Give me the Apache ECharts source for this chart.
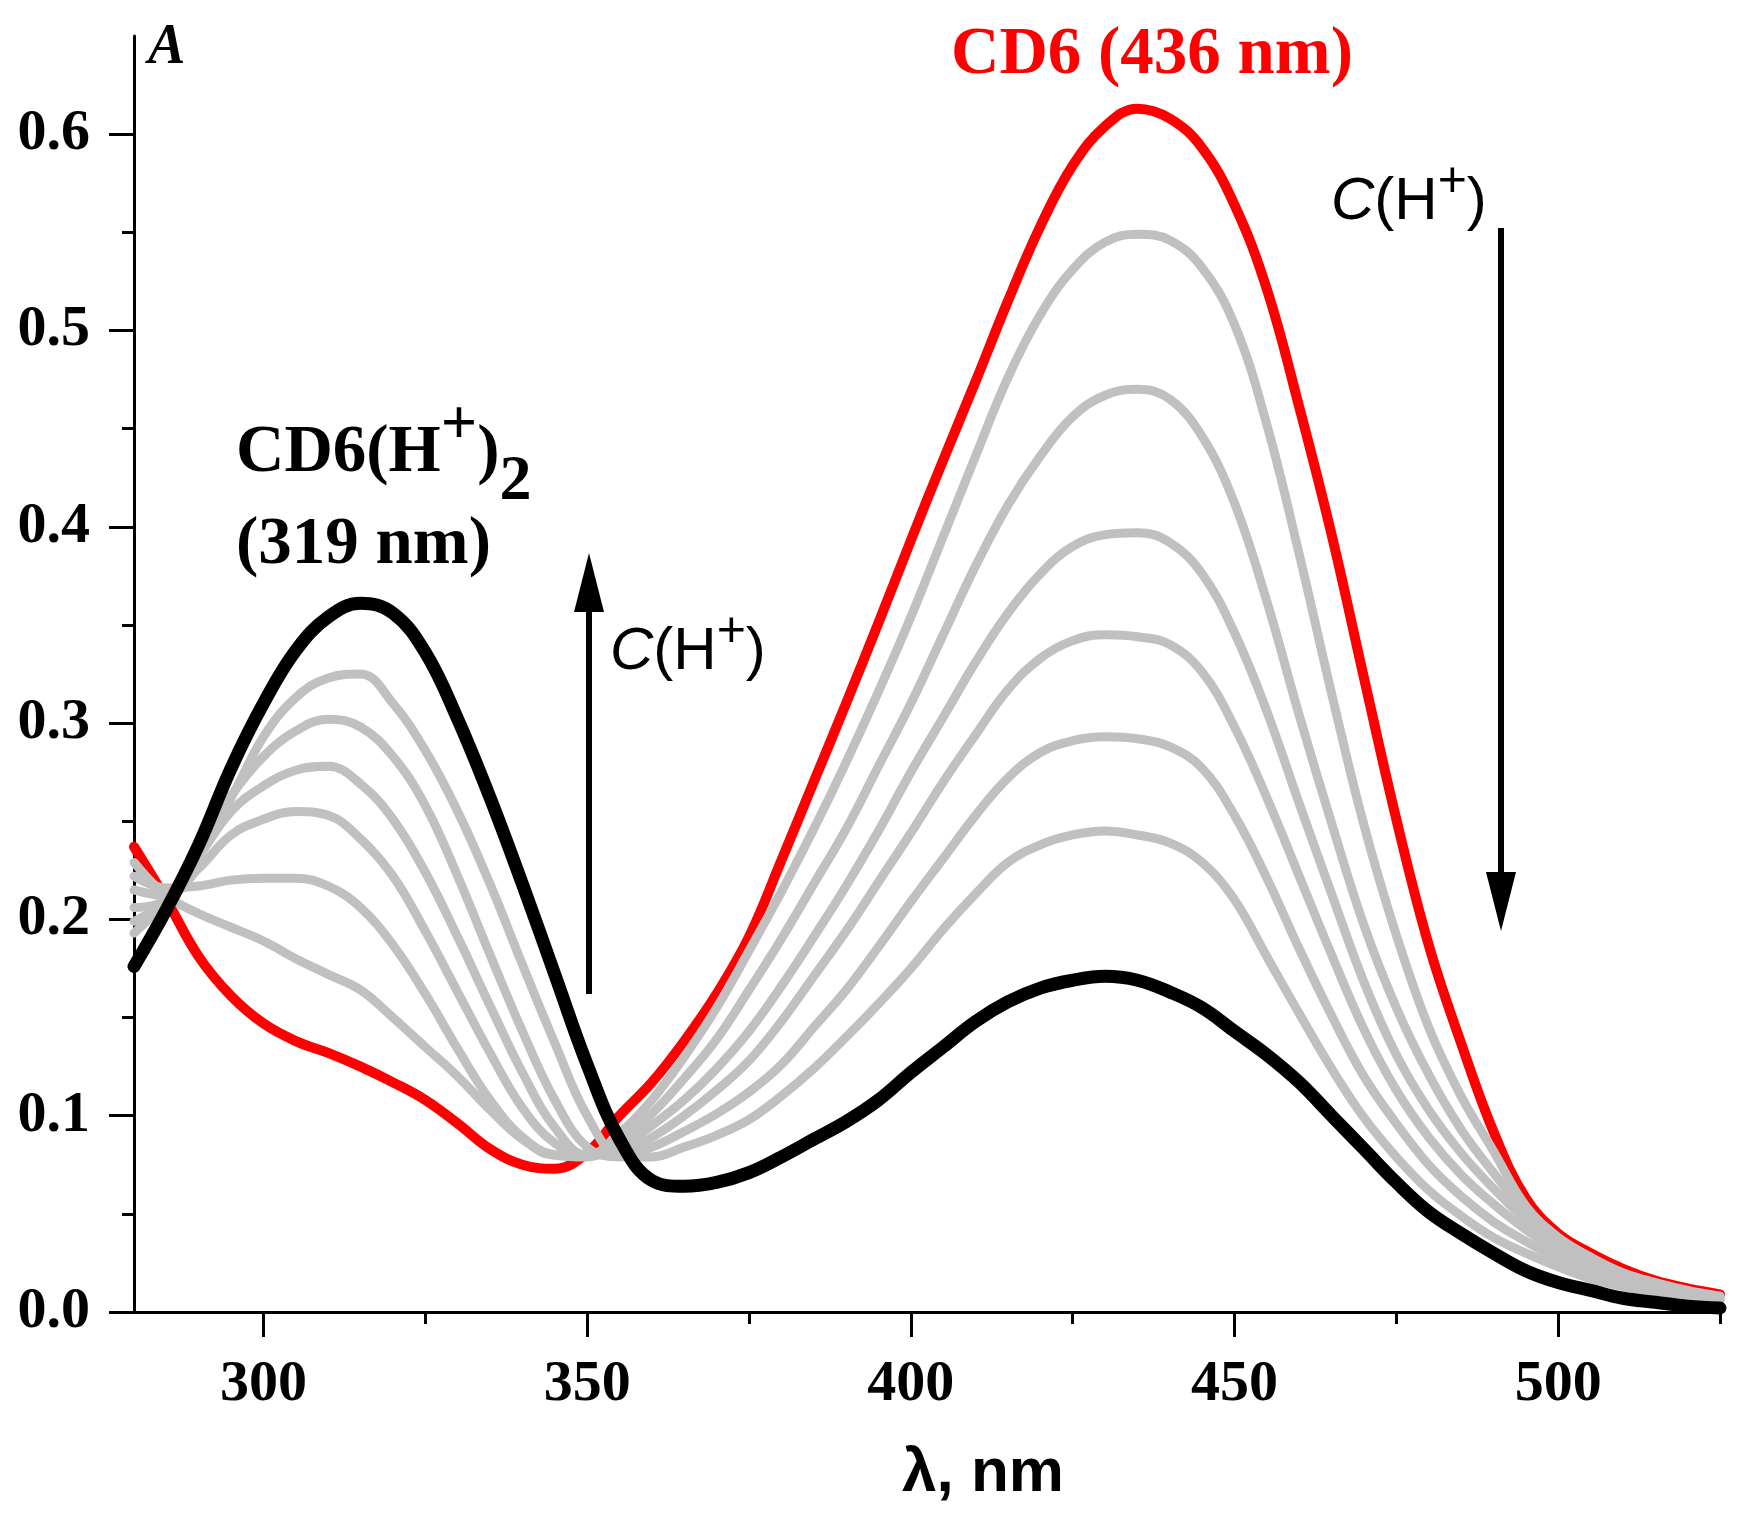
<!DOCTYPE html>
<html>
<head>
<meta charset="utf-8">
<title>CD6 spectra</title>
<script src="https://cdn.jsdelivr.net/npm/echarts@6/dist/echarts.min.js"></script>
<style>
html,body{margin:0;padding:0;background:#fff;}
#main{width:1742px;height:1522px;}
</style>
</head>
<body>
<div id="main"></div>
<script>
// wavelength, nm
var wavelength = [280,285,290,295,300,305,310,315,320,325,330,335,340,345,350,355,360,365,370,375,
	380,385,390,395,400,405,410,415,420,425,430,435,440,445,450,455,460,465,470,475,
	480,485,490,495,500,505,510,515,520,525];

// CD6 (red)
var cd6 = [0.237,0.210,0.181,0.161,0.147,0.138,0.132,0.125,0.117,0.108,0.096,0.083,0.075,0.073,0.081,0.100,0.117,0.138,0.162,0.191,
	0.230,0.270,0.310,0.351,0.393,0.434,0.474,0.515,0.553,0.584,0.604,0.613,0.608,0.593,0.564,0.521,0.461,0.396,0.323,0.251,
	0.187,0.137,0.092,0.058,0.040,0.030,0.022,0.016,0.012,0.009];

// intermediate spectra (grey), from low to high C(H+)
var step1 = [0.229,0.212,0.203,0.196,0.189,0.180,0.172,0.164,0.150,0.135,0.120,0.103,0.088,0.080,0.080,0.091,0.108,0.130,0.155,0.184,
	0.214,0.246,0.280,0.316,0.354,0.395,0.436,0.476,0.508,0.531,0.545,0.549,0.546,0.532,0.503,0.452,0.386,0.315,0.248,0.192,
	0.145,0.110,0.082,0.054,0.038,0.028,0.020,0.015,0.011,0.008];
var step2 = [0.222,0.216,0.217,0.220,0.221,0.221,0.217,0.206,0.187,0.162,0.134,0.108,0.089,0.080,0.079,0.087,0.101,0.119,0.139,0.164,
	0.190,0.218,0.246,0.278,0.310,0.345,0.380,0.411,0.436,0.456,0.467,0.470,0.465,0.446,0.412,0.362,0.304,0.249,0.197,0.155,
	0.121,0.093,0.071,0.051,0.036,0.026,0.019,0.014,0.010,0.008];
var step3 = [0.215,0.212,0.226,0.243,0.251,0.255,0.253,0.241,0.222,0.194,0.163,0.132,0.104,0.086,0.080,0.084,0.095,0.108,0.124,0.143,
	0.166,0.191,0.217,0.245,0.275,0.303,0.331,0.356,0.376,0.390,0.396,0.397,0.392,0.376,0.346,0.306,0.259,0.213,0.168,0.131,
	0.103,0.081,0.063,0.047,0.034,0.025,0.018,0.013,0.010,0.007];
var step4 = [0.206,0.210,0.232,0.255,0.268,0.276,0.278,0.269,0.251,0.224,0.191,0.156,0.122,0.094,0.080,0.081,0.089,0.100,0.113,0.128,
	0.148,0.171,0.194,0.219,0.244,0.270,0.294,0.317,0.333,0.342,0.345,0.344,0.340,0.326,0.298,0.262,0.222,0.182,0.144,0.113,
	0.089,0.070,0.055,0.042,0.031,0.023,0.017,0.012,0.009,0.007];
var step5 = [0.199,0.210,0.236,0.263,0.283,0.296,0.302,0.298,0.283,0.258,0.222,0.182,0.143,0.108,0.084,0.079,0.084,0.092,0.101,0.112,
	0.126,0.145,0.164,0.186,0.209,0.231,0.253,0.272,0.285,0.291,0.293,0.292,0.288,0.277,0.253,0.221,0.185,0.151,0.120,0.096,
	0.075,0.059,0.046,0.036,0.027,0.020,0.015,0.011,0.008,0.006];
var step6 = [0.193,0.210,0.235,0.262,0.293,0.313,0.323,0.325,0.310,0.286,0.255,0.218,0.177,0.137,0.100,0.080,0.079,0.084,0.090,0.098,
	0.110,0.124,0.140,0.157,0.175,0.195,0.213,0.229,0.238,0.243,0.245,0.243,0.239,0.229,0.210,0.181,0.152,0.124,0.099,0.079,
	0.062,0.049,0.038,0.030,0.023,0.017,0.013,0.010,0.007,0.006];

// CD6(H+)2 (black)
var cd6H2 = [0.176,0.205,0.238,0.277,0.310,0.337,0.354,0.361,0.356,0.336,0.302,0.262,0.218,0.172,0.126,0.088,0.067,0.064,0.066,0.071,
	0.079,0.088,0.097,0.108,0.122,0.135,0.148,0.158,0.165,0.169,0.171,0.169,0.163,0.155,0.143,0.131,0.117,0.100,0.083,0.066,
	0.051,0.040,0.030,0.021,0.015,0.011,0.007,0.005,0.003,0.002];

var xMajor = [300,350,400,450,500];
var xMinor = [325,375,425,475,525];
var yMajor = [0,0.1,0.2,0.3,0.4,0.5,0.6];
var yMinor = [0.05,0.15,0.25,0.35,0.45,0.55];

var serifBold = 'Liberation Serif';
var sans = 'Liberation Sans';

var toPairs = function(ys){
	var out = [];
	for(var i=0;i<wavelength.length;i++){
		out.push([wavelength[i], ys[i]]);
	}
	return out;
};

var lineSeries = function(name, ys, color, width, z){
	return {
		name: name,
		type: 'line',
		data: toPairs(ys),
		showSymbol: false,
		smooth: 0.4,
		z: z,
		lineStyle: {color: color, width: width, cap: 'round', join: 'round'},
		xAxisIndex: 0,
		yAxisIndex: 0
	};
};

var series = [lineSeries('CD6', cd6, '#ff0000', 10, 2)];
var greys = [step1, step2, step3, step4, step5, step6];
for(var g=0; g<greys.length; g++){
	series.push(lineSeries('step'+(g+1), greys[g], '#c0c0c0', 9, 3));
}
series.push(lineSeries('CD6(H+)2', cd6H2, '#000000', 13, 4));

var tickLine = {color:'#000', width:3};

// C(H+) label, rich text
var chLabel = function(x, y){
	return {type:'text', style:{x:x, y:y, verticalAlign:'top', fill:'#000',
		text:'{i|C}{m|(H}{sup|+}{m|)}',
		rich:{
			i:{fontFamily:sans, fontStyle:'italic', fontSize:60, lineHeight:90, verticalAlign:'middle'},
			m:{fontFamily:sans, fontSize:60, lineHeight:90, verticalAlign:'middle'},
			sup:{fontFamily:sans, fontSize:50, lineHeight:62, verticalAlign:'top'}
		}}};
};

var chart = echarts.init(document.getElementById('main'), null, {renderer:'canvas'});
chart.setOption({
	backgroundColor: '#ffffff',
	animation: false,
	grid: {left:134, right:22, top:36, bottom:210, containLabel:false},
	xAxis: [{
		type: 'value',
		min: 280,
		max: 525,
		position: 'bottom',
		axisLine: {show:true, onZero:false, lineStyle: tickLine},
		axisTick: {show:true, inside:false, length:25, lineStyle: tickLine, customValues: xMajor},
		axisLabel: {
			customValues: xMajor,
			margin: 44,
			color: '#000', fontFamily: serifBold, fontWeight: 'bold', fontSize: 58
		},
		splitLine: {show:false}
	},{
		type: 'value',
		min: 280,
		max: 525,
		position: 'bottom',
		axisLine: {show:false},
		axisTick: {show:true, inside:false, length:12, lineStyle: tickLine, customValues: xMinor},
		axisLabel: {show:false},
		splitLine: {show:false}
	}],
	yAxis: [{
		type: 'value',
		min: 0,
		max: 0.65,
		position: 'left',
		axisLine: {show:true, onZero:false, lineStyle: tickLine},
		axisTick: {show:true, inside:false, length:25, lineStyle: tickLine, customValues: yMajor},
		axisLabel: {
			customValues: yMajor,
			margin: 44,
			color: '#000', fontFamily: serifBold, fontWeight: 'bold', fontSize: 58,
			formatter: function(v){ return v.toFixed(1); }
		},
		splitLine: {show:false}
	},{
		type: 'value',
		min: 0,
		max: 0.65,
		position: 'left',
		axisLine: {show:false},
		axisTick: {show:true, inside:false, length:12, lineStyle: tickLine, customValues: yMinor},
		axisLabel: {show:false},
		splitLine: {show:false}
	}],
	series: series,
	graphic: [
		// axis titles
		{type:'text', style:{x:148, y:49, text:'A', fill:'#000', verticalAlign:'middle',
			font:'italic bold 56px "Liberation Serif"'}},
		{type:'text', style:{x:902, y:1474, text:'λ, nm', fill:'#000', verticalAlign:'middle',
			font:'bold 62px "Liberation Sans"'}},
		// peak labels
		{type:'text', style:{x:951, y:56, text:'CD6 (436 nm)', fill:'#ff0000', verticalAlign:'middle',
			font:'bold 67px "Liberation Serif"'}},
		{type:'text', style:{x:236, y:394, verticalAlign:'top', fill:'#000',
			text:'{m|CD6(H}{sup|+}{m|)}{sub|2}',
			rich:{
				m:{fontFamily:serifBold, fontWeight:'bold', fontSize:67, lineHeight:120, verticalAlign:'middle'},
				sup:{fontFamily:serifBold, fontWeight:'bold', fontSize:64, lineHeight:70, verticalAlign:'top'},
				sub:{fontFamily:serifBold, fontWeight:'bold', fontSize:64, lineHeight:84, verticalAlign:'bottom'}
			}}},
		{type:'text', style:{x:236, y:546, text:'(319 nm)', fill:'#000', verticalAlign:'middle',
			font:'bold 67px "Liberation Serif"'}},
		// C(H+) labels
		chLabel(610, 607),
		chLabel(1331, 157),
		// arrows
		{type:'line', shape:{x1:589, y1:994, x2:589, y2:600}, style:{stroke:'#000', lineWidth:6}},
		{type:'polygon', shape:{points:[[574,612],[604,612],[589,553]]}, style:{fill:'#000'}},
		{type:'line', shape:{x1:1501, y1:228, x2:1501, y2:880}, style:{stroke:'#000', lineWidth:6}},
		{type:'polygon', shape:{points:[[1486,872],[1516,872],[1501,931]]}, style:{fill:'#000'}}
	]
});
</script>
</body>
</html>
